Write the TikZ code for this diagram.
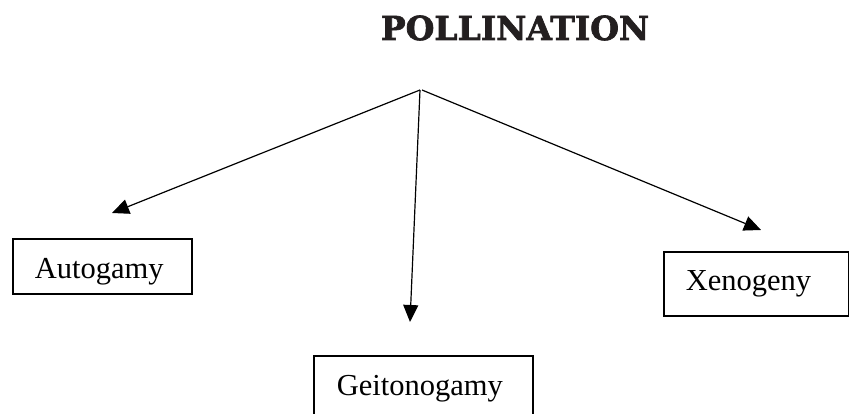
\documentclass[tikz,border=0pt]{standalone}
\usepackage{fontspec}
\setmainfont{Liberation Serif}
\newfontfamily\titlefont{DejaVu Serif}[BoldFeatures={FakeBold=2}]
\usetikzlibrary{arrows.meta}
\definecolor{ink}{HTML}{231F20}
\begin{document}
\begin{tikzpicture}[x=1pt,y=-1pt,
  boxnode/.style={draw=black,line width=1.7pt,rectangle,anchor=north west,
    inner ysep=0pt,inner xsep=22pt,align=left,
    font=\fontsize{30.5}{36}\selectfont},
  arr/.style={line width=1.2pt,-{Triangle[length=17pt,width=15pt]}},
  ]
\useasboundingbox (0,0) rectangle (849,414);
\fill[white] (0,0) rectangle (849,414);
\clip (0,0) rectangle (849,414);
% title
\node[anchor=base,inner sep=0pt,text=ink,font=\titlefont\bfseries\fontsize{33}{40}\selectfont] (title) at (515,40) {POLLINATION};
% apex and arrow tips
\coordinate (apex) at (420,90);
\coordinate (apexr) at (422,90);
\coordinate (tipA) at (112,213);
\coordinate (tipG) at (410,322);
\coordinate (tipX) at (761,230);
% boxes
\node[boxnode,text width=135pt,text height=40pt,text depth=15pt] (auto) at (12,238) {Autogamy};
\node[boxnode,inner xsep=23pt,text width=173pt,text height=40pt,text depth=40pt] (geito) at (313,355) {Geitonogamy};
\node[boxnode,text width=141pt,text height=39pt,text depth=25pt] (xeno) at (663,251) {Xenogeny};
% arrows
\draw[arr] (apex) -- (tipA);
\draw[arr] (apex) -- (tipG);
\draw[arr] (apexr) -- (tipX);
\end{tikzpicture}
\end{document}
